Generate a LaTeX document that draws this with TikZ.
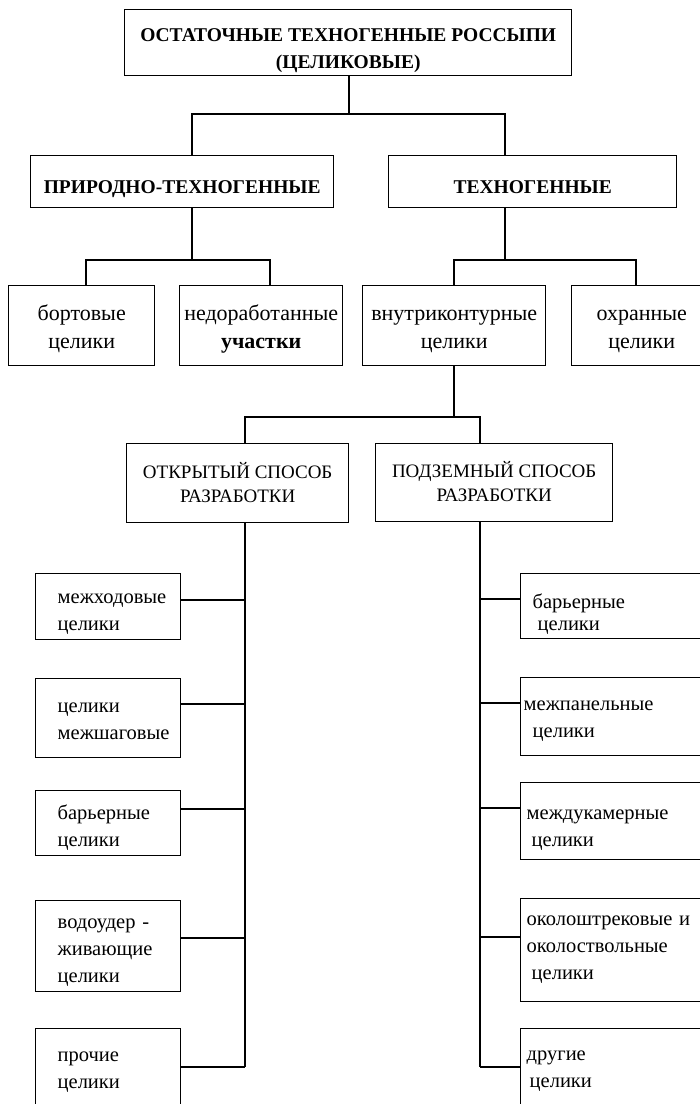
\documentclass[tikz,border=0pt]{standalone}
\usepackage{fontspec}
\setmainfont{Liberation Serif}
\newcommand{\topstr}[1]{\rule{0pt}{#1pt}}
\newcommand{\botstr}{\rule[-6pt]{0pt}{6pt}}
\begin{document}
\begin{tikzpicture}[x=1pt,y=-1pt,
  bx/.style={draw, line width=1.4pt, inner sep=0pt, anchor=north west},
  cbx/.style={bx, align=center},
  lbx/.style={bx, align=left},
  ln/.style={line width=1.4pt},
  capB/.style={font=\fontsize{19.5}{27}\bfseries\selectfont},
  capR/.style={font=\fontsize{19}{24}\selectfont},
  lowA/.style={font=\fontsize{22}{28}\selectfont},
  lowC/.style={font=\fontsize{20.5}{27}\selectfont}]
\path[use as bounding box] (0,0) rectangle (700,1104);
\fill[white] (0,0) rectangle (700,1104);
\clip (0,0) rectangle (700,1104);

% level 1
\node[cbx, capB, minimum width=447pt, minimum height=66pt] (top) at (124,9)
  {\topstr{30}ОСТАТОЧНЫЕ ТЕХНОГЕННЫЕ РОССЫПИ\\(ЦЕЛИКОВЫЕ)\botstr};
% level 2
\node[cbx, capB, minimum width=303pt, minimum height=52pt] (pt) at (30,155) {\topstr{30}ПРИРОДНО-ТЕХНОГЕННЫЕ\botstr};
\node[cbx, capB, minimum width=288pt, minimum height=52pt] (tn) at (388,155) {\topstr{30}ТЕХНОГЕННЫЕ\botstr};
% level 3
\node[cbx, lowA, minimum width=146pt, minimum height=80pt] (bort) at (8,285) {\topstr{24}бортовые\\целики\botstr};
\node[cbx, lowA, minimum width=163pt, minimum height=80pt] (ned) at (179,285) {\topstr{24}недоработанные\\\textbf{участки}\botstr};
\node[cbx, lowA, minimum width=183pt, minimum height=80pt] (vn) at (362,285) {\topstr{24}внутриконтурные\\целики\botstr};
\node[cbx, lowA, minimum width=140pt, minimum height=80pt] (ohr) at (571,285) {\topstr{24}охранные\\целики\botstr};
% level 4
\node[cbx, capR, minimum width=222pt, minimum height=79pt] (otk) at (126,443) {\topstr{21}ОТКРЫТЫЙ СПОСОБ\\РАЗРАБОТКИ\botstr};
\node[cbx, capR, minimum width=237pt, minimum height=78pt] (pod) at (375,443) {\topstr{19}ПОДЗЕМНЫЙ СПОСОБ\\РАЗРАБОТКИ\botstr};
% left column
\node[lbx, lowC, text width=145pt, minimum height=66pt] (m1) at (35,573) {\topstr{27}\hspace*{22pt}межходовые\\\hspace*{22pt}целики\botstr};
\node[lbx, lowC, text width=145pt, minimum height=79pt] (m2) at (35,678) {\topstr{22}\hspace*{22pt}целики\\\hspace*{22pt}межшаговые\botstr};
\node[lbx, lowC, text width=145pt, minimum height=65pt] (m3) at (35,790) {\topstr{26}\hspace*{22pt}барьерные\\\hspace*{22pt}целики\botstr};
\node[lbx, lowC, text width=145pt, minimum height=91pt] (m4) at (35,900) {\topstr{25}\hspace*{22pt}водоудер -\\\hspace*{22pt}живающие\\\hspace*{22pt}целики\botstr};
\node[lbx, lowC, text width=145pt, minimum height=82pt] (m5) at (35,1028) {\topstr{17}\hspace*{22pt}прочие\\\hspace*{22pt}целики\botstr};
% right column
\node[lbx, lowC, text width=190pt, minimum height=65pt] (p1) at (520,573) {\topstr{33}\hspace*{12pt}барьерные\\[-5pt]\hspace*{17pt}целики\botstr};
\node[lbx, lowC, text width=190pt, minimum height=78pt] (p2) at (520,677) {\topstr{21}\hspace*{3pt}межпанельные\\\hspace*{12pt}целики\botstr};
\node[lbx, lowC, text width=190pt, minimum height=77pt] (p3) at (520,782) {\topstr{30}\hspace*{6pt}междукамерные\\\hspace*{11pt}целики\botstr};
\node[lbx, lowC, text width=190pt, minimum height=103pt] (p4) at (520,898) {\topstr{11}\hspace*{6pt}околоштрековые и\\\hspace*{6pt}околоствольные\\\hspace*{11pt}целики\botstr};
\node[lbx, lowC, text width=190pt, minimum height=82pt] (p5) at (520,1028) {\topstr{15}\hspace*{6pt}другие\\\hspace*{9pt}целики\botstr};

% connectors level 1 -> 2
\coordinate (t1) at (349,114);
\coordinate (hL) at (192,114);
\coordinate (hR) at (505,114);
\draw[ln] (top.south -| t1) -- (t1);
\draw[ln] (pt.north -| hL) -- (hL) -- (hR) -- (tn.north -| hR);
% level 2 -> 3
\coordinate (a0) at (192,260);
\coordinate (a1) at (86,260);
\coordinate (a2) at (270,260);
\draw[ln] (pt.south -| a0) -- (a0);
\draw[ln] (bort.north -| a1) -- (a1) -- (a2) -- (ned.north -| a2);
\coordinate (b0) at (505,260);
\coordinate (b1) at (454,260);
\coordinate (b2) at (636,260);
\draw[ln] (tn.south -| b0) -- (b0);
\draw[ln] (vn.north -| b1) -- (b1) -- (b2) -- (ohr.north -| b2);
% level 3 -> 4
\coordinate (c0) at (454,417);
\coordinate (c1) at (245,417);
\coordinate (c2) at (480,417);
\draw[ln] (vn.south -| c0) -- (c0);
\draw[ln] (otk.north -| c1) -- (c1) -- (c2) -- (pod.north -| c2);
% left column
\coordinate (k1) at (245,600);
\coordinate (k2) at (245,704);
\coordinate (k3) at (245,809);
\coordinate (k4) at (245,938);
\coordinate (k5) at (245,1067);
\draw[ln] (otk.south -| k1) -- (k5);
\foreach \i in {1,...,5} { \draw[ln] (m\i.east |- k\i) -- (k\i); }
% right column
\coordinate (q1) at (480,599);
\coordinate (q2) at (480,703);
\coordinate (q3) at (480,808);
\coordinate (q4) at (480,937);
\coordinate (q5) at (480,1067);
\draw[ln] (pod.south -| q1) -- (q5);
\foreach \i in {1,...,5} { \draw[ln] (q\i) -- (p\i.west |- q\i); }
\end{tikzpicture}
\end{document}
